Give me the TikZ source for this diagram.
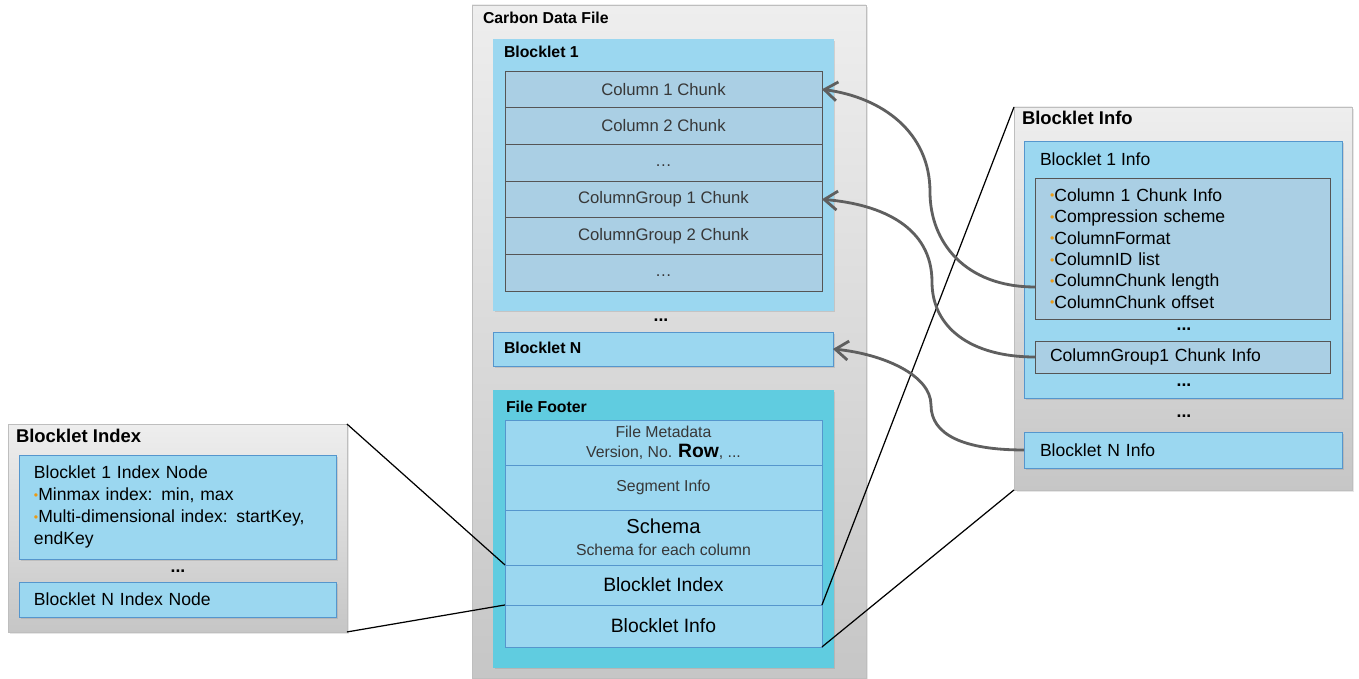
\documentclass[tikz,border=0pt]{standalone}
\usepackage{fontspec}
\setmainfont{Liberation Sans}
\usetikzlibrary{positioning,arrows.meta,shadows}

\definecolor{paneltop}{RGB}{238,238,238}
\definecolor{panelbot}{RGB}{198,198,198}
\definecolor{panelline}{RGB}{190,190,190}
\definecolor{boxblue}{RGB}{155,215,240}
\definecolor{boxline}{RGB}{85,150,205}
\definecolor{chunkblue}{RGB}{170,207,228}
\definecolor{chunkline}{RGB}{85,85,85}
\definecolor{footcyan}{RGB}{96,204,224}
\definecolor{dotorange}{RGB}{235,155,20}
\definecolor{linkgray}{RGB}{95,95,95}
\definecolor{chunktext}{RGB}{55,55,55}

\newcommand{\bul}{\raisebox{0.08em}{\color{dotorange}\scriptsize•}}

\begin{document}
\begin{tikzpicture}[x=0.02cm, y=-0.02cm,
    every node/.style={inner sep=0pt, outer sep=0pt},
    panel/.style={draw=panelline, top color=paneltop, bottom color=panelbot, anchor=north west,
      drop shadow={opacity=0.2, shadow xshift=0.05cm, shadow yshift=-0.05cm}},
    bluebox/.style={draw=boxline, fill=boxblue, anchor=north west,
      drop shadow={opacity=0.25, shadow xshift=0.04cm, shadow yshift=-0.04cm}},
    chunkrow/.style={draw=chunkline, fill=chunkblue, minimum width=6.34cm, minimum height=0.7333cm,
      text=chunktext, font=\fontsize{9.5}{11}\selectfont},
    chunkbox/.style={draw=chunkline, fill=chunkblue, anchor=north west, minimum width=5.9cm,
      text width=5.3cm, inner xsep=0.3cm, align=left, font=\fontsize{10}{12.2}\selectfont},
    footrow/.style={draw=boxline, fill=boxblue, minimum width=6.34cm, align=center,
      text=chunktext, font=\fontsize{9}{12.5}\selectfont},
    title/.style={anchor=west, font=\bfseries\fontsize{9}{11}\selectfont},
    dots/.style={font=\bfseries\fontsize{10}{12}\selectfont},
    link/.style={draw=linkgray, line width=1.6pt, -{Straight Barb[length=2.6mm,width=3.8mm]}},
    zoomline/.style={draw=black, line width=0.7pt}]
    \useasboundingbox (0,0) rectangle (1359,679);

    % Carbon data file
    \node (cdf) [panel, minimum width=7.88cm, minimum height=13.46cm] at (472,5) {};
    \node (cdft) [title] at (483,18) {Carbon Data File};

    \node (b1) [bluebox, draw=boxblue, minimum width=6.8cm, minimum height=5.42cm] at (493,39) {};
    \node (b1t) [title] at (504,52) {Blocklet 1};
    \node (c1) [chunkrow, anchor=north west] at (505,71) {Column 1 Chunk};
    \node (c2) [chunkrow, below=0pt of c1] {Column 2 Chunk};
    \node (c3) [chunkrow, below=0pt of c2] {\strut\dots};
    \node (c4) [chunkrow, below=0pt of c3] {ColumnGroup 1 Chunk};
    \node (c5) [chunkrow, below=0pt of c4] {ColumnGroup 2 Chunk};
    \node (c6) [chunkrow, below=0pt of c5] {\strut\dots};

    \node (bdots) [dots] at (661,320) {...};
    \node (bn) [bluebox, minimum width=6.8cm, minimum height=0.68cm] at (493,332) {};
    \node (bnt) [title] at (504,348) {Blocklet N};

    \node (ff) [bluebox, fill=footcyan, draw=footcyan, minimum width=6.8cm, minimum height=5.54cm] at (493,390) {};
    \node (fft) [title] at (506,407) {File Footer};
    \node (fmeta) [footrow, anchor=north west, minimum height=0.9cm, font=\fontsize{9}{11.3}\selectfont] at (505,420)
      {File Metadata\\Version, No. {\color{black}\bfseries\fontsize{11}{11}\selectfont Row}, ...};
    \node (seg) [footrow, below=0pt of fmeta, minimum height=0.9cm] {Segment Info};
    \node (schema) [footrow, below=0pt of seg, minimum height=1.1cm]
      {{\color{black}\fontsize{11.5}{13}\selectfont Schema}\\Schema for each column};
    \node (bidx) [footrow, below=0pt of schema, minimum height=0.8cm, text=black, font=\fontsize{11}{13}\selectfont] {Blocklet Index};
    \node (binf) [footrow, below=0pt of bidx, minimum height=0.84cm, text=black, font=\fontsize{11}{13}\selectfont] {Blocklet Info};

    % Blocklet index
    \node (lp) [panel, minimum width=6.78cm, minimum height=4.16cm] at (8,424) {};
    \node (lpt) [title, font=\bfseries\fontsize{10.5}{12}\selectfont] at (16,436) {Blocklet Index};
    \node (ix1) [bluebox, minimum width=6.34cm, minimum height=2.08cm, text width=5.74cm, inner xsep=0.3cm,
      align=left, font=\fontsize{10}{12.5}\selectfont] at (19,455)
      {Blocklet 1 Index Node\\\bul Minmax index: min, max\\\bul Multi-dimensional index: startKey,\\endKey};
    \node (ixdots) [dots] at (178,571) {...};
    \node (ixn) [bluebox, minimum width=6.34cm, minimum height=0.7cm, text width=5.74cm, inner xsep=0.3cm,
      align=left, font=\fontsize{10}{12.5}\selectfont] at (19,582) {Blocklet N Index Node};

    % Blocklet info
    \node (rp) [panel, minimum width=6.76cm, minimum height=7.66cm] at (1014,107) {};
    \node (rpt) [title, font=\bfseries\fontsize{10.5}{12}\selectfont] at (1022,118) {Blocklet Info};
    \node (bi1) [bluebox, minimum width=6.36cm, minimum height=5.14cm] at (1024,141) {};
    \node (bi1t) [anchor=west, font=\fontsize{10}{12}\selectfont] at (1040,159) {Blocklet 1 Info};
    \node (items) [chunkbox, minimum height=2.82cm] at (1035,178)
      {\bul Column 1 Chunk Info\\\bul Compression scheme\\\bul ColumnFormat\\\bul ColumnID list\\\bul ColumnChunk length\\\bul ColumnChunk offset};
    \node (idots1) [dots] at (1184,329) {...};
    \node (cg1info) [chunkbox, minimum height=0.64cm] at (1035,341) {ColumnGroup1 Chunk Info};
    \node (idots2) [dots] at (1184,385) {...};
    \node (idots3) [dots] at (1184,416) {...};
    \node (bninfo) [bluebox, minimum width=6.36cm, minimum height=0.72cm, text width=5.72cm, inner xsep=0.32cm,
      align=left, font=\fontsize{10}{12}\selectfont] at (1024,432) {Blocklet N Info};

    % Zoom lines
    \draw[zoomline] (lp.north east) -- (bidx.north west);
    \draw[zoomline] (lp.south east) -- (bidx.south west);
    \draw[zoomline] (bidx.south east) -- (rp.north west);
    \draw[zoomline] (binf.south east) -- (rp.south west);

    % Arrows
    \coordinate (k1) at (930,192);
    \coordinate (k2) at (932,282);
    \coordinate (k3) at (931,405);
    \draw[link] ([yshift=-0.77cm]items.west) .. controls +(-70,0) and +(0,50) .. (k1)
      .. controls +(0,-60) and +(60,8) .. (c1.east);
    \draw[link] (cg1info.west) .. controls +(-65,0) and +(0,45) .. (k2)
      .. controls +(0,-55) and +(60,5) .. (c4.east);
    \draw[link] (bninfo.west) .. controls +(-60,0) and +(0,30) .. (k3)
      .. controls +(0,-30) and +(50,5) .. (bn.east);
\end{tikzpicture}
\end{document}
